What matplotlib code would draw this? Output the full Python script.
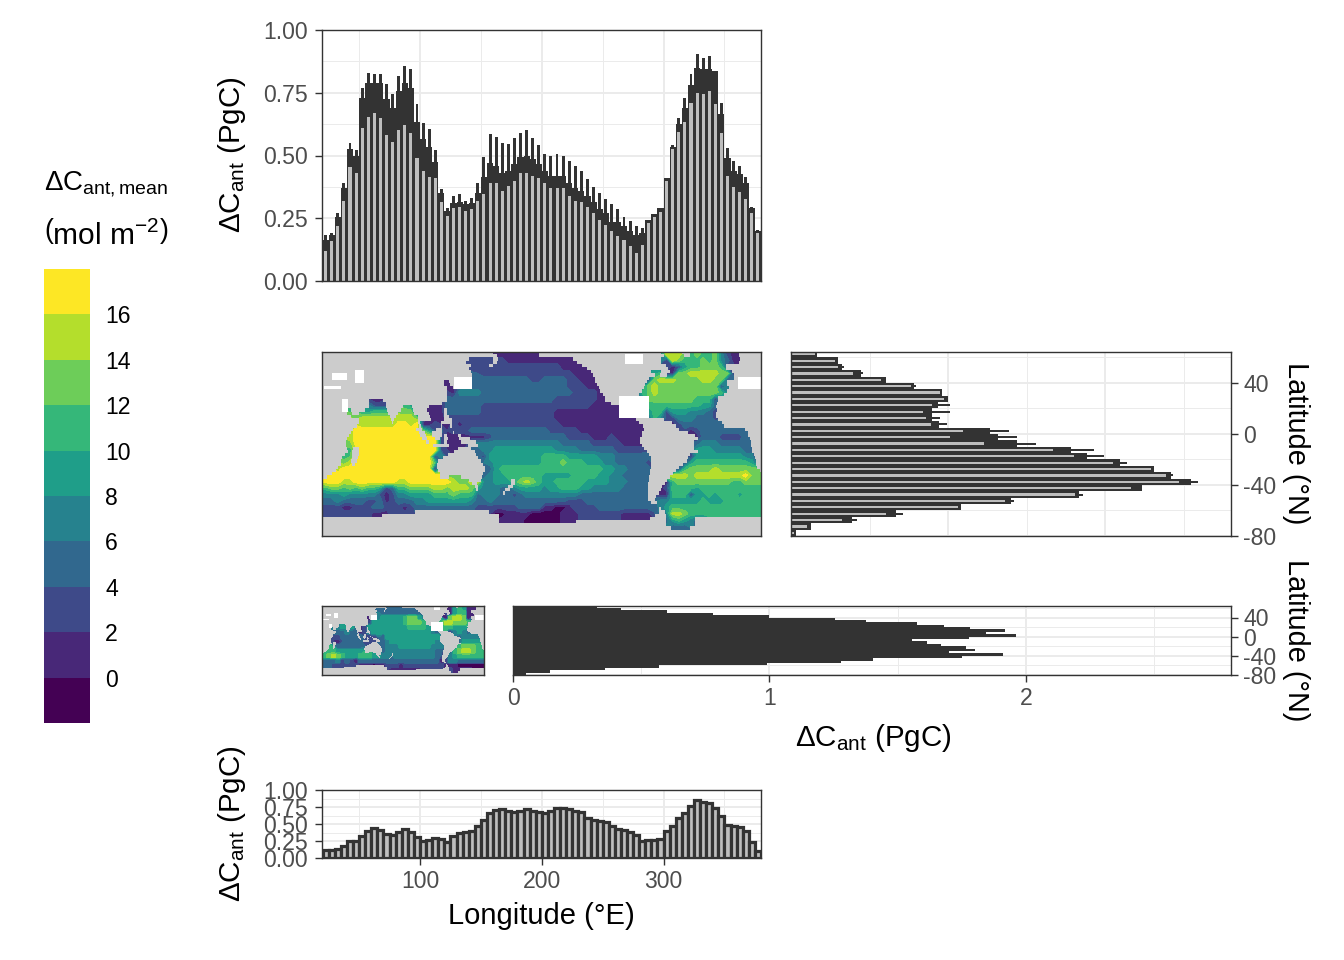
import numpy as np
import matplotlib
matplotlib.use("Agg")
import matplotlib.pyplot as plt
from matplotlib.colors import BoundaryNorm, ListedColormap

plt.rcParams['font.family'] = ['Liberation Sans', 'DejaVu Sans']
plt.rcParams['mathtext.fontset'] = 'custom'
plt.rcParams['mathtext.rm'] = 'Liberation Sans'
plt.rcParams['mathtext.it'] = 'Liberation Sans:italic'
plt.rcParams['mathtext.bf'] = 'Liberation Sans:bold'

# ---- data ----------------------------------------------------------------
LON = np.arange(22.5, 380, 5)
LAT = np.arange(62.5, -80, -5)

lon_inner = [.12,.16,.22,.32,.455,.43,.61,.655,.67,.65,.58,.555,.60,.62,.59,.49,.44,.415,.41,.315,.26,.29,.295,.28,.285,.32,.345,.39,.39,.36,.38,.40,.43,.43,.42,.41,
             .39,.37,.37,.37,.34,.32,.315,.295,.27,.245,.225,.20,.18,.165,.14,.11,.145,.23,.255,.275,.40,.525,.595,.635,.71,.75,.745,.755,.705,.59,.42,.375,.355,.325,.27,.19]
lon_dark = [.165,.185,.255,.37,.525,.50,.73,.79,.79,.79,.725,.69,.755,.79,.77,.635,.565,.535,.475,.35,.28,.31,.315,.305,.31,.35,.415,.47,.46,.43,.44,.465,.495,.50,.485,.465,
            .44,.42,.42,.42,.39,.37,.36,.34,.315,.285,.27,.235,.235,.22,.20,.185,.19,.245,.265,.29,.41,.535,.625,.69,.78,.85,.845,.845,.835,.665,.49,.44,.425,.39,.29,.20]
lon_spike = [.185,.19,.27,.39,.55,.52,.77,.83,.825,.825,.785,.745,.815,.855,.845,.705,.63,.605,.52,.365,.29,.34,.345,.32,.33,.39,.495,.585,.575,.55,.545,.57,.59,.60,.57,.54,
             .505,.50,.505,.50,.48,.46,.44,.405,.375,.35,.325,.305,.285,.255,.24,.22,.21,.245,.265,.29,.41,.54,.65,.73,.825,.905,.89,.895,.835,.71,.53,.48,.46,.415,.295,.205]

lat_inner = [.153,.28,.30,.396,.572,.763,.947,.975,.898,.839,.862,.89,1.096,1.011,1.229,1.67,1.801,2.049,2.289,2.388,2.467,2.166,1.81,1.36,1.06,.602,.326,.10,.02]
lat_dark = [.167,.297,.326,.445,.604,.784,.962,1.0,.937,.898,.898,.943,1.269,1.318,1.441,1.784,1.886,2.092,2.308,2.42,2.547,2.234,1.835,1.399,1.081,.665,.386,.125,.03]
lat_spike = [.167,.297,.335,.456,.604,.793,.962,1.0,1.009,1.011,.951,.992,1.388,1.437,1.562,1.926,1.99,2.138,2.308,2.431,2.592,2.234,1.861,1.422,1.081,.71,.417,.125,.03]

lat2_total = [.326,.42,.60,.78,1.0,1.254,1.377,1.576,1.68,1.784,1.917,1.845,1.96,1.78,1.557,1.614,1.67,1.765,1.80,1.70,1.91,1.75,1.405,1.28,.99,.57,.36,.145,.05]

lon2_total = [.118,.12,.13,.175,.255,.25,.32,.40,.435,.41,.36,.34,.385,.42,.38,.305,.255,.26,.29,.275,.23,.325,.37,.38,.40,.475,.56,.665,.705,.715,.69,.68,.695,.72,.695,.67,
              .655,.695,.73,.74,.72,.695,.68,.585,.56,.54,.525,.47,.43,.41,.385,.34,.25,.265,.265,.285,.40,.47,.585,.665,.77,.855,.83,.815,.73,.62,.485,.47,.45,.40,.23,.11]

# map classes: digit = colour class, '.' = no ocean value in this cell
MAP1_WEST = [
 "............................11111111",
 "........................222222111111",
 ".........................22222222222",
 "..........................2222222222",
 "........................333333333322",
 "....................11..333333333333",
 ".....................144443333333333",
 "........11.......1113333333333333333",
 "........222..65..1113333332222222222",
 "......55666..77211113333332222222222",
 "......88888.8887.1112222222222222222",
 "......8888889989112.1212222222222222",
 "....899999999999..2..222333333333333",
 "....89999999999999" + "921111111" + "23333333333",
 "....7999999999999992" + "11.134444444444",
 "....6.99999999999992.....34455555555",
 "...6..9999999999992.......2555555555",
 "...7..999999999999.........455555555",
 "..89999999999999991........356666666",
 "999999999999999999997776623455666666",
 "999889999999889999999877884455..7876",
 "677676766523667777887888754443..5555",
 "444544444212445555666766634443323444",
 "334333322312333445555555433433333333",
 "222112223322212333333333322222223333",
 "222222221112................00111100",
 ".............................1111000",
 "..............................11....",
 "....................................",
]
MAP1_EAST = [
 "....................888.67667421....",
 "11111...............187.6676743111..",
 "222111...............125667776221...",
 "2222211.............117788888771....",
 "33332211.........17888777788772.....",
 "333322211........7877777777772......",
 "3333322221........877777777776......",
 "33222222211.....3777777776662.......",
 "2222222211111.....66666666553.......",
 "221111111111111...66255544432.......",
 "22111111111111111...224443332.......",
 "22211111111111111....1233333333.....",
 "3222221111111111........1233333333..",
 "33332222111211111........1333222233.",
 "44433333222221111........3444333333.",
 "55444433333322222.......3555444443..",
 "666655555444333333......155555555441",
 "666766655544333332.....2566666666653",
 "666666666655443333...126777787777777",
 "55555666655443333..198887888888889",
 "55666665555444333..21677777777766777",
 "45566655444443333..12666656666666666",
 "444444333333333333211666255656665666",
 "333322233333333333344555556555666666",
 "1100122223333333333.5666666666666666",
 "000111222222211111..4887666666666666",
 "....................3565432.........",
 ".....................333............",
 "....................................",
]
MAP2 = [
 "............................15651...",
 ".............3333333332.....156611..",
 "..........1.455555677543...17887 1".replace(" ", "") + "...",
 "..........255555556777654.6887776...",
 "...45.5312555555555666654..66555....",
 "...33433124555555555555543..24543...",
 "...233333.22.3555555555555....34444.",
 "...1.33332...3455555555554....35555.",
 "...333333....3444555555544...467776.",
 ".66555555....3444444444443..36788766",
 "678765556665544.4444444443.245666666",
 "333423213333333333333333331244333333",
 "332222221110112221222222222111000000",
 "...............1111111......21112...",
 "....................................",
]

# land intervals (°E) of each 2.5° latitude band from 63.75°N to 78.75°S
LAND_SPANS = [
 [(20,160),(198,298),(315,322),(362,380)],
 [(20,163),(198,300),(317,322),(362,380)],
 [(20,140),(160,164),(226,298),(363,380)],
 [(20,138),(160,163),(229,298),(362,380)],
 [(20,142),(157,160),(233,302),(351,380)],
 [(20,140),(237,304),(351,380)],
 [(20,142),(240,290),(298,305),(356,380)],
 [(20,143),(242,293),(297,303),(358,380)],
 [(20,128),(244,288),(358,380)],
 [(20,120),(124,128),(244,286),(352,380)],
 [(20,120),(125,130),(245,285),(352,380)],
 [(20,122),(127,132),(247,284),(354,380)],
 [(20,122),(248,282),(352,380)],
 [(20,122),(250,280),(350,380)],
 [(20,122),(252,279),(345,380)],
 [(20,58),(70,122),(252,263),(345,380)],
 [(20,58),(72,118),(257,263),(344,380)],
 [(20,58),(72,86),(93,107),(343,380)],
 [(20,40),(43,55),(73,84),(94,106),(120,122),(344,380)],
 [(20,40),(44,50),(74,82),(95,107),(120,122),(343,380)],
 [(20,43),(75,80),(98,108),(120,124),(343,380)],
 [(20,50),(76,79),(98,109),(120,126),(277,300),(345,380)],
 [(20,50),(77,78),(98,100),(117,126),(280,307),(348,380)],
 [(20,48),(99,101),(117,118),(125,126),(283,310),(350,380)],
 [(20,45),(97,102),(113,118),(284,313),(367,380)],
 [(20,43),(99,104),(110,118),(127,128),(282,320),(369,380)],
 [(20,42),(100,105),(110,118),(120,122),(131,134),(282,326),(369,380)],
 [(20,40),(102,106),(112,116),(120,123),(132,141),(281,328),(371,380)],
 [(20,39),(105,107),(120,122),(134,146),(281,325),(372,380)],
 [(20,39),(111,124),(139,148),(282,325),(372,380)],
 [(20,40),(45,50),(131,142),(284,325),(373,380)],
 [(20,41),(44,50),(128,145),(286,328),(373,380)],
 [(20,38),(44,50),(123,146),(288,322),(374,380)],
 [(20,36),(44,49),(119,148),(290,320),(375,380)],
 [(20,35),(43,48),(115,150),(290,319),(376,380)],
 [(20,35),(44,47),(114,152),(290,316),(376,380)],
 [(20,33),(114,153),(290,313),(377,380)],
 [(20,31),(115,153),(289,310),(379,380)],
 [(20,28),(116,152),(289,308)],
 [(20,24),(116,124),(134,151),(288,305)],
 [(140,150),(175,178),(288,303)],
 [(143,147),(175,178),(287,301)],
 [(145,148),(172,176),(287,299)],
 [(146,148),(170,174),(287,298)],
 [(168,170),(287,296)],
 [(287,294)],
 [(287,293)],
 [(290,295)],
 [],
 [(296,298)],
 [(96,157),(296,301)],
 [(69,165),(293,302)],
 [(20,165),(289,302),(326,380)],
 [(20,165),(228,302),(326,380)],
 [(20,302),(326,380)],
 [(20,306),(322,380)],
 [(20,380)],
 [(20,380)],
]
# cells without a value: (north, south, west, east)
NODATA_BOXES = [(47, 43, 28, 40), (49, 40, 47, 54), (37, 34, 21, 35), (28, 18, 36, 41),
                (44, 36, 128, 143), (63, 54, 268, 283), (31, 12, 263, 288), (44, 36, 361, 380)]

BIN_EDGES = [-2, 0, 2, 4, 6, 8, 10, 12, 14, 16, 18]
BIN_COLORS = ['#440154', '#482878', '#3E4A89', '#31688E', '#26828E',
              '#1F9E89', '#35B779', '#6DCD59', '#B4DE2C', '#FDE725']
LEGEND_TICKS = [0, 2, 4, 6, 8, 10, 12, 14, 16]

DARK = '#333333'
FILL = '#BEBEBE'
GRID = '#EBEBEB'
LAND = '#CCCCCC'
W, H = 1344, 960
fig = plt.figure(figsize=(W / 100, H / 100), dpi=100)
PX = 72 / 100  # points per pixel


def make_ax(l, t, r, b):
    ax = fig.add_axes([l / W, 1 - b / H, (r - l) / W, (b - t) / H])
    for s in ax.spines.values():
        s.set_color(DARK)
        s.set_linewidth(1.4 * PX)
        s.set_zorder(5)
    ax.set_axisbelow(True)
    ax.tick_params(which='major', length=7 * PX, width=1.4 * PX, color=DARK,
                   labelcolor='#4D4D4D', labelsize=16.6, pad=3.7)
    ax.tick_params(which='minor', length=0)
    ax.grid(which='major', color=GRID, lw=2 * PX)
    ax.grid(which='minor', color=GRID, lw=1 * PX)
    return ax


def lon_axes(ax):
    ax.set_xlim(19.5, 380)
    ax.set_xticks([100, 200, 300])
    ax.set_xticks([50, 150, 250, 350], minor=True)
    ax.set_ylim(0, 1)
    ax.set_yticks([0, .25, .5, .75, 1])
    ax.set_yticks([.125, .375, .625, .875], minor=True)
    ax.set_yticklabels(['0.00', '0.25', '0.50', '0.75', '1.00'])
    ax.tick_params(axis='y', which='major', pad=5)


def lat_axes(ax, top):
    ax.set_xlim(0, 2.8)
    ax.set_xticks([0, 1, 2])
    ax.set_xticks([.5, 1.5, 2.5], minor=True)
    ax.set_ylim(-80, top)
    ax.set_yticks([-80, -40, 0, 40])
    ax.set_yticks([-60, -20, 20, 60], minor=True)
    ax.yaxis.tick_right()
    ax.set_yticklabels(['-80', '-40', '0', '40'])


def mask_layers():
    lon_e = np.arange(20, 381)
    lat_e = 65 - 2.5 * np.arange(len(LAND_SPANS) + 1)
    lon_c = (lon_e[:-1] + lon_e[1:]) / 2
    lat_c = (lat_e[:-1] + lat_e[1:]) / 2
    land = np.full((len(lat_c), len(lon_c)), np.nan)
    for j, spans in enumerate(LAND_SPANS):
        for a, b in spans:
            land[j, (lon_c >= a) & (lon_c <= b)] = 1
    nodata = np.full(land.shape, np.nan)
    for n, s, w, e in NODATA_BOXES:
        nodata[np.ix_((lat_c <= n) & (lat_c >= s), (lon_c >= w) & (lon_c <= e))] = 1
    land[nodata == 1] = np.nan
    return lon_e, lat_e, land, nodata


def draw_map(ax, rows):
    """Filled class bands of the gridded values, land and no-data on top."""
    val = np.full((len(rows), len(rows[0])), np.nan)
    for j, row in enumerate(rows):
        for i, c in enumerate(row):
            if c.isdigit():
                val[j, i] = -1 + 2 * int(c)
    # carry the nearest ocean class under the land so bands reach the coast
    while np.isnan(val).any():
        new = val.copy()
        for j, i in zip(*np.where(np.isnan(val))):
            near = val[max(j - 1, 0):j + 2, max(i - 1, 0):i + 2]
            if np.isfinite(near).any():
                new[j, i] = np.nanmean(near)
        val = new
    x = np.r_[19.5, LON, 380.5]
    y = np.r_[65, LAT, -80]
    ax.contourf(x, y, np.pad(val, 1, mode='edge'), levels=BIN_EDGES, colors=BIN_COLORS,
                antialiased=False)
    lon_e, lat_e, land, nodata = mask_layers()
    ax.pcolormesh(lon_e, lat_e, land, cmap=ListedColormap([LAND]), shading='flat')
    ax.pcolormesh(lon_e, lat_e, nodata, cmap=ListedColormap(['white']), shading='flat')
    ax.set_xlim(19.5, 380)
    ax.set_ylim(-80, 64.3)
    ax.set_xticks([])
    ax.set_yticks([])
    ax.grid(False)


def small_rows(main_rows, coarse):
    """Classes of the small map on the 5-degree cells of the main map."""
    out = []
    for j, row in enumerate(main_rows):
        chars = []
        for i, c in enumerate(row):
            jc, ic = j // 2, i // 2
            chars.append(coarse[jc][ic] if coarse[jc][ic].isdigit() else '.')
        out.append(''.join(chars))
    return out


# ---- top longitude panel
ax1 = make_ax(322, 30, 761, 281)
lon_axes(ax1)
ax1.bar(LON, lon_dark, width=5, color=DARK, lw=0, zorder=2)
ax1.bar(LON, lon_spike, width=2.4, color=DARK, lw=0, zorder=2)
ax1.bar(LON, lon_inner, width=2.5, color=FILL, lw=0, zorder=3)
ax1.tick_params(axis='x', length=0, labelbottom=False)

# ---- main map
ax2 = make_ax(322, 352, 761, 536)
rows1 = [a.ljust(36, '.')[:36] + b.ljust(36, '.')[:36] for a, b in zip(MAP1_WEST, MAP1_EAST)]
draw_map(ax2, rows1)

# ---- right latitude panel
ax3 = make_ax(791, 352, 1231, 536)
lat_axes(ax3, 64.3)
ax3.barh(LAT, lat_dark, height=5, color=DARK, lw=0, zorder=2)
ax3.barh(LAT, lat_spike, height=1.5, color=DARK, lw=0, zorder=2)
ax3.barh(LAT, lat_inner, height=1.8, color=FILL, lw=0, zorder=3)
ax3.tick_params(axis='x', length=0, labelbottom=False)

# ---- small map
ax4 = make_ax(322, 606, 484, 675)
draw_map(ax4, small_rows(rows1, [r.ljust(36, '.')[:36] for r in MAP2]))

# ---- lower latitude panel
ax5 = make_ax(513, 606, 1231, 675)
lat_axes(ax5, 64)
ax5.barh(LAT, lat2_total, height=5, color=DARK, lw=0, zorder=2)

# ---- bottom longitude panel
ax6 = make_ax(322, 790, 761, 858)
lon_axes(ax6)
ax6.bar(LON, lon2_total, width=5, facecolor=FILL, edgecolor=DARK, lw=3.2 * PX, zorder=2)

# ---- legend
cax = fig.add_axes([44 / W, 1 - 723 / H, 46 / W, (723 - 269) / H])
edges = np.array(BIN_EDGES)
cax.pcolormesh([0, 1], edges, np.array(edges[:-1] + 1)[:, None],
               cmap=ListedColormap(BIN_COLORS), norm=BoundaryNorm(BIN_EDGES, 10))
cax.set_xlim(0, 1)
cax.set_ylim(-2, 18)
cax.set_xticks([])
cax.yaxis.tick_right()
cax.set_yticks(LEGEND_TICKS)
cax.tick_params(length=0, labelsize=16.6, pad=11, labelcolor='black')
for s in cax.spines.values():
    s.set_visible(False)

# ---- titles
def label(x, y, s, **kw):
    kw.setdefault('ha', 'center')
    kw.setdefault('va', 'center')
    kw.setdefault('fontsize', 21)
    fig.text(x / W, 1 - y / H, s, color='black', **kw)


DC = r'$\mathrm{\Delta C_{ant}}$ (PgC)'
label(232, 155, DC, rotation=90, fontsize=21.3)
label(232, 824, DC, rotation=90, fontsize=21.3)
label(873, 738, DC, fontsize=21.3)
label(541, 916, 'Longitude (°E)')
label(1296, 443, 'Latitude (°N)', rotation=-90, fontsize=20.8)
label(1296, 640, 'Latitude (°N)', rotation=-90, fontsize=20.8)
label(44, 184, r'$\mathrm{\Delta C_{ant,mean}}$', ha='left', fontsize=20)
label(44, 235, r'$\left(\mathrm{mol\ m^{-2}}\right)$', ha='left', fontsize=21.5)

fig.savefig('out.png', dpi=100)
